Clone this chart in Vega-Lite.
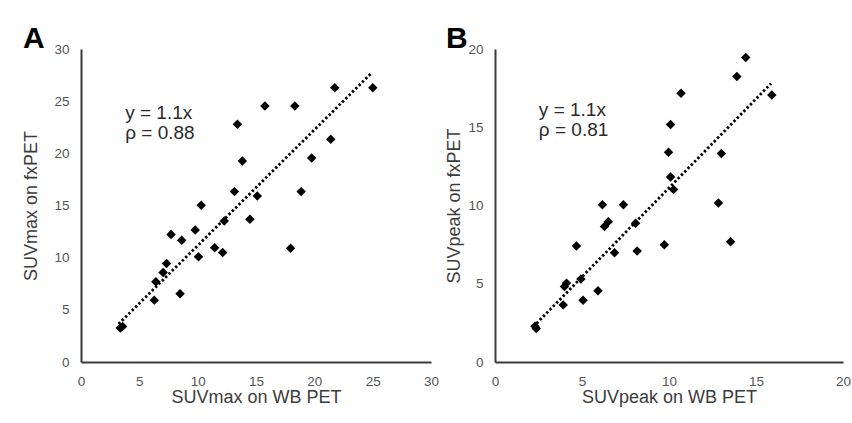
{
  "$schema": "https://vega.github.io/schema/vega-lite/v6.json",
  "padding": {"left": 22, "top": 24, "right": 2, "bottom": 10},
  "background": "white",
  "datasets": {
    "a": [
      {"x": 3.37, "y": 3.25}, {"x": 3.56, "y": 3.41}, {"x": 6.28, "y": 5.93}, {"x": 6.42, "y": 7.69},
      {"x": 7.04, "y": 8.58}, {"x": 7.33, "y": 9.44}, {"x": 7.72, "y": 12.22}, {"x": 8.49, "y": 6.54},
      {"x": 8.63, "y": 11.67}, {"x": 9.79, "y": 12.66}, {"x": 10.07, "y": 10.08}, {"x": 10.3, "y": 15.02},
      {"x": 11.46, "y": 10.94}, {"x": 12.14, "y": 10.49}, {"x": 12.28, "y": 13.52}, {"x": 13.15, "y": 16.33},
      {"x": 13.41, "y": 22.78}, {"x": 13.83, "y": 19.27}, {"x": 14.48, "y": 13.68}, {"x": 15.11, "y": 15.92},
      {"x": 15.76, "y": 24.53}, {"x": 17.96, "y": 10.91}, {"x": 18.33, "y": 24.53}, {"x": 18.87, "y": 16.33},
      {"x": 19.77, "y": 19.55}, {"x": 21.41, "y": 21.34}, {"x": 21.75, "y": 26.28}, {"x": 25.01, "y": 26.28}
    ],
    "b": [
      {"x": 2.3, "y": 2.29}, {"x": 2.37, "y": 2.14}, {"x": 3.92, "y": 3.65}, {"x": 3.99, "y": 4.83},
      {"x": 4.11, "y": 5.04}, {"x": 4.68, "y": 7.41}, {"x": 4.94, "y": 5.3}, {"x": 5.06, "y": 3.95},
      {"x": 5.92, "y": 4.55}, {"x": 6.17, "y": 10.05}, {"x": 6.29, "y": 8.66}, {"x": 6.51, "y": 8.96},
      {"x": 6.87, "y": 6.98}, {"x": 7.38, "y": 10.05}, {"x": 8.08, "y": 8.87}, {"x": 8.17, "y": 7.09},
      {"x": 9.73, "y": 7.49}, {"x": 9.97, "y": 13.41}, {"x": 10.09, "y": 11.82}, {"x": 10.09, "y": 15.17},
      {"x": 10.26, "y": 11.02}, {"x": 10.69, "y": 17.17}, {"x": 12.84, "y": 10.16}, {"x": 13.01, "y": 13.32},
      {"x": 13.54, "y": 7.69}, {"x": 13.9, "y": 18.25}, {"x": 14.41, "y": 19.45}, {"x": 15.91, "y": 17.06}
    ],
    "ta": [{"x": 3.22, "y": 3.64}, {"x": 24.87, "y": 27.66}],
    "tb": [{"x": 2.2, "y": 2.25}, {"x": 15.87, "y": 17.8}],
    "la": [{"x": 3.79, "y": 23.9, "label": "y = 1.1x"}, {"x": 3.79, "y": 21.98, "label": "ρ = 0.88"}],
    "lb": [{"x": 2.52, "y": 16.12, "label": "y = 1.1x"}, {"x": 2.52, "y": 14.83, "label": "ρ = 0.81"}]
  },
  "spacing": 6,
  "hconcat": [
    {
      "width": 350,
      "height": 313,
      "title": {"text": "A", "anchor": "start", "frame": "bounds", "fontSize": 30, "fontWeight": "bold", "font": "Liberation Sans", "color": "black", "offset": -12},
      "encoding": {
        "x": {"field": "x", "type": "quantitative", "scale": {"domain": [0, 30], "nice": false}, "axis": {"values": [0, 5, 10, 15, 20, 25, 30], "title": "SUVmax on WB PET", "titlePadding": 1}},
        "y": {"field": "y", "type": "quantitative", "scale": {"domain": [0, 30], "nice": false}, "axis": {"values": [0, 5, 10, 15, 20, 25, 30], "title": "SUVmax on fxPET", "titlePadding": 13}}
      },
      "layer": [
        {"data": {"name": "ta"}, "mark": {"type": "line", "color": "black", "strokeWidth": 2.8, "strokeDash": [2.4, 2.3]}},
        {"data": {"name": "a"}, "mark": {"type": "point", "shape": "diamond", "filled": true, "color": "black", "opacity": 1, "size": 90}},
        {"data": {"name": "la"}, "mark": {"type": "text", "align": "left", "baseline": "middle", "fontSize": 19, "font": "Liberation Sans", "color": "#2b2b2b"}, "encoding": {"text": {"field": "label"}}}
      ]
    },
    {
      "width": 348,
      "height": 313,
      "title": {"text": "B", "anchor": "start", "frame": "bounds", "fontSize": 30, "fontWeight": "bold", "font": "Liberation Sans", "color": "black", "offset": -12},
      "encoding": {
        "x": {"field": "x", "type": "quantitative", "scale": {"domain": [0, 20], "nice": false}, "axis": {"values": [0, 5, 10, 15, 20], "title": "SUVpeak on WB PET", "titlePadding": 1}},
        "y": {"field": "y", "type": "quantitative", "scale": {"domain": [0, 20], "nice": false}, "axis": {"values": [0, 5, 10, 15, 20], "title": "SUVpeak on fxPET", "titlePadding": 4}}
      },
      "layer": [
        {"data": {"name": "tb"}, "mark": {"type": "line", "color": "black", "strokeWidth": 2.8, "strokeDash": [2.4, 2.3]}},
        {"data": {"name": "b"}, "mark": {"type": "point", "shape": "diamond", "filled": true, "color": "black", "opacity": 1, "size": 90}},
        {"data": {"name": "lb"}, "mark": {"type": "text", "align": "left", "baseline": "middle", "fontSize": 19, "font": "Liberation Sans", "color": "#2b2b2b"}, "encoding": {"text": {"field": "label"}}}
      ]
    }
  ],
  "config": {
    "view": {"stroke": null},
    "axis": {
      "grid": false,
      "ticks": false,
      "domainColor": "#3a3a3a",
      "domainWidth": 2,
      "labelColor": "#555555",
      "labelFontSize": 13.5,
      "labelFont": "Liberation Sans",
      "labelPadding": 12,
      "labelFlush": false,
      "labelOverlap": false,
      "titleFont": "Liberation Sans",
      "titleFontSize": 18,
      "titleFontWeight": "normal",
      "titleColor": "#3c3c3c"
    }
  }
}
